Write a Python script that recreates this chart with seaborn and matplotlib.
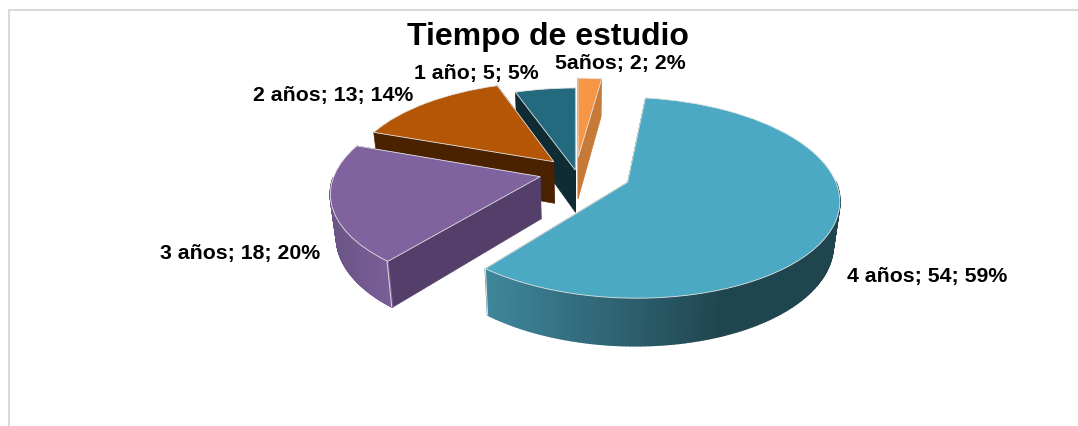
import numpy as np
import matplotlib
matplotlib.use("Agg")
import matplotlib.pyplot as plt
from matplotlib.collections import PolyCollection
from matplotlib.colors import to_rgb
from matplotlib.transforms import Transform
import seaborn as sns

# ---- data ----
title = "Tiempo de estudio"
categories = ["1 año", "2 años", "3 años", "4 años", "5años"]
values = [5, 13, 18, 54, 2]
percents = [5, 14, 20, 59, 2]

# ---- style / layout ----
top_colors = ["#246A7E", "#B45605", "#7F629E", "#4BA9C3", "#F79646"]
side_colors = ["#0F2B33", "#4B2200", "#533F69", "#1F454F", "#C77A38"]
explode = [0.02, 0.156, 0.18, 0.27, 0.16]
draw_rank = [1, 2, 3, 4, 0]
# outer wall gradient per slice: (x start, colour, x end, colour)
wall_ramps = {
    2: (335, "#6C5587", 392, "#7B5F99"),
    3: (484, "#40879C", 725, "#1F454F"),
}
label_xy = [(476, 73), (333, 96), (240, 253), (927, 277), (620, 63)]

CX, CY = 576.0, 173.0     # pixel position of the pie centre
RX, RY = 205.0, 95.0      # horizontal / vertical scale of the tilted disc
PERSP = 0.15              # foreshortening of the tilted disc
DEPTH = 42.0              # thickness of the pie, in pixels
FONT = ["Liberation Sans", "DejaVu Sans"]


class Tilt(Transform):
    """Projects the flat pie onto the tilted plane, in image pixels."""
    input_dims = 2
    output_dims = 2
    is_affine = False

    def __init__(self, lift=0.0, sx=1.0, sy=1.0):
        super().__init__()
        self.lift, self.sx, self.sy = lift, sx, sy

    def transform_non_affine(self, values):
        values = np.asarray(values, float)
        x, y = values[:, 0], values[:, 1]
        w = 1 + PERSP * y
        return np.column_stack((CX + self.sx * RX * x / w,
                                CY + self.lift - self.sy * RY * y / w))


sns.set_theme(style="white")
plt.rcParams["font.family"] = FONT

fig = plt.figure(figsize=(10.78, 4.27), dpi=100, facecolor="white")
ax = fig.add_axes([0, 0, 1, 1])

wedges, _ = ax.pie(values, explode=explode, startangle=90, counterclock=True,
                   colors=sns.color_palette(top_colors), radius=1,
                   wedgeprops=dict(edgecolor="#E4E4E4", linewidth=0.6))
ax.set_aspect("auto")
ax.set_position([0, 0, 1, 1])
ax.set_xlim(0, 1078)
ax.set_ylim(427, 0)

top_plane = Tilt()
low_plane = Tilt(lift=DEPTH, sx=0.975, sy=1.044)

for i, w in enumerate(wedges):
    z = 2 + draw_rank[i]
    center = np.array(w.center)
    th = np.radians(np.linspace(w.theta1, w.theta2, 241))
    arc = center + w.r * np.column_stack((np.cos(th), np.sin(th)))
    top, low = top_plane.transform_non_affine(arc), low_plane.transform_non_affine(arc)

    # radial walls
    apex = center[None, :]
    apex_t = top_plane.transform_non_affine(apex)[0]
    apex_l = low_plane.transform_non_affine(apex)[0]
    radial = [[apex_t, top[0], low[0], apex_l], [apex_t, top[-1], low[-1], apex_l]]
    ax.add_collection(PolyCollection(radial, facecolors=side_colors[i],
                                     edgecolors=side_colors[i], linewidths=0.5,
                                     zorder=z + 0.1))

    # outer wall, only where it faces the viewer, shaded along the x axis
    front = [k for k in range(len(arc) - 1) if np.sin(th[k]) < -0.01]
    if front:
        quads = [[top[k], top[k + 1], low[k + 1], low[k]] for k in front]
        xm = np.array([q[0][0] for q in quads])
        if i in wall_ramps:
            x0, c0, x1, c1 = wall_ramps[i]
            frac = np.clip((xm - x0) / (x1 - x0), 0, 1)[:, None]
            cols = np.array(to_rgb(c0)) * (1 - frac) + np.array(to_rgb(c1)) * frac
        else:
            cols = [to_rgb(side_colors[i])] * len(quads)
        ax.add_collection(PolyCollection(quads, facecolors=cols, edgecolors=cols,
                                         linewidths=1.2, zorder=z + 0.2))
        # pale vertical edge where the outer wall meets the cut
        k = front[-1] if i == 2 else front[0]
        ax.plot([top[k][0], low[k][0]], [top[k][1], low[k][1]],
                color="#DCDCDC", lw=0.7, zorder=z + 0.3)

    # top face
    w.set_transform(top_plane + ax.transData)
    w.set_zorder(z + 0.4)

# chart-area border
ax.plot([9, 9, 1078], [427, 11, 11], color="#D9D9D9", lw=1.45, zorder=1,
        solid_joinstyle="miter", clip_on=False)

for cat, v, p, (x, y) in zip(categories, values, percents, label_xy):
    ax.text(x, y, f"{cat}; {v}; {p}%", ha="center", va="center",
            fontsize=15.3, fontweight="bold", color="black", zorder=10)

ax.set_title(title, x=548 / 1078, y=1 - 45 / 427, va="baseline", pad=0,
             fontsize=23, fontweight="bold", color="black", zorder=10)

fig.savefig("out.png", dpi=100, facecolor="white")
